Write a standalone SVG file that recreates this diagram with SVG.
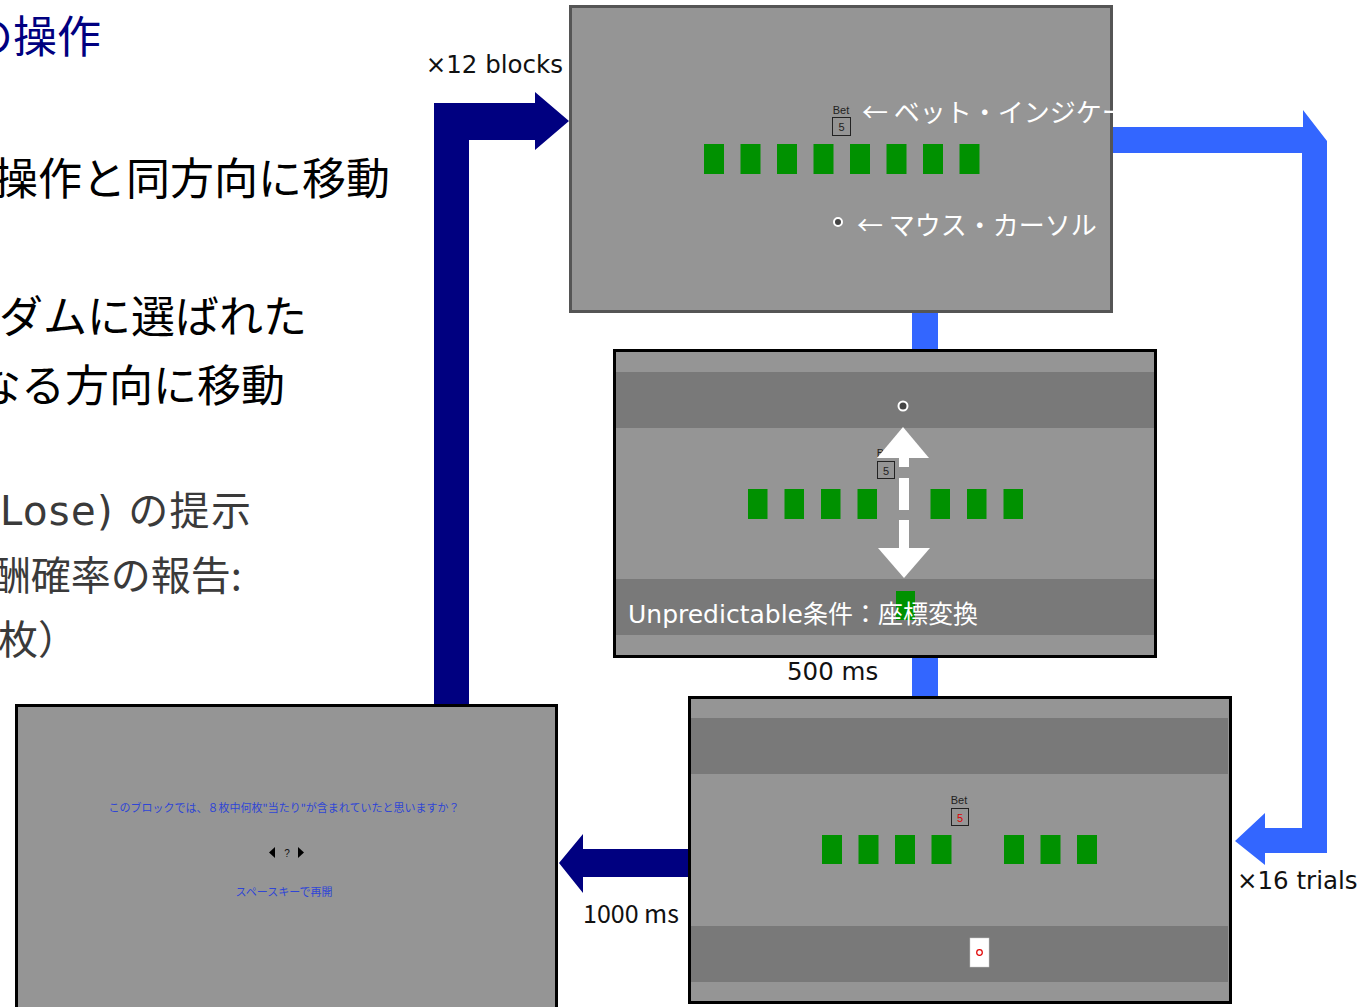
<svg xmlns="http://www.w3.org/2000/svg" width="1363" height="1007" viewBox="0 0 1363 1007">
<style>
.screen{fill:#959595}
.band{fill:#797979}
.card{fill:#009100}
.bet{font-family:"Liberation Sans",Arial,sans-serif;font-size:11px;fill:#222;text-anchor:middle}
.betbox{fill:none;stroke:#222;stroke-width:1}
.cursor{fill:#444;stroke:#fff;stroke-width:2}
.wlabel{font-family:"Noto Sans CJK JP",sans-serif;font-size:26px;fill:#fff}
.ulabel{font-family:"DejaVu Sans","Noto Sans CJK JP",sans-serif;font-size:25px;fill:#fff}
.lbl{font-family:"DejaVu Sans","Noto Sans CJK JP",sans-serif;font-size:24.5px;fill:#111}
.ms{font-family:"Noto Sans CJK JP",sans-serif;font-size:25px;fill:#111}
.big{font-family:"Noto Sans CJK JP",sans-serif;font-size:44px}
.mid{font-family:"Noto Sans CJK JP",sans-serif;font-size:40px;fill:#3a3a3a}
.midl{font-family:"DejaVu Sans","Noto Sans CJK JP",sans-serif;font-size:40px;fill:#3a3a3a}
.q{font-family:"Noto Sans CJK JP",sans-serif;font-size:11px;fill:#2f45d6;text-anchor:middle}
</style>
<rect width="1363" height="1007" fill="#fff"/>

<g id="slide-text">
<text class="big" x="101" y="53" fill="#000080" text-anchor="end">の操作</text>
<text class="big" x="390" y="195" fill="#000" text-anchor="end">操作と同方向に移動</text>
<text class="big" x="307" y="333" fill="#000" text-anchor="end">ダムに選ばれた</text>
<text class="big" x="285" y="402" fill="#000" text-anchor="end">なる方向に移動</text>
<text class="midl" x="0" y="525" textLength="251" lengthAdjust="spacing">Lose) の提示</text>
<text class="mid" x="242" y="590" text-anchor="end">酬確率の報告:</text>
<text class="mid" x="-2" y="654">枚）</text>
</g>

<g id="connectors">
<polygon fill="#000080" points="434,705 434,103 535,103 535,92 569,121 535,150 535,140 469,140 469,705"/>
<polygon fill="#3366ff" points="1112,127 1303,127 1303,110 1327,141 1327,853 1265,853 1265,865 1235,841 1265,813 1265,828 1302,828 1302,153 1112,153"/>
<rect x="912" y="311" width="26" height="42" fill="#3366ff"/>
<rect x="912" y="655" width="26" height="44" fill="#3366ff"/>
<polygon fill="#000080" points="689,849 583,849 583,834 559,863 583,893 583,877 689,877"/>
<text class="lbl" x="563" y="73" text-anchor="end">×12 blocks</text>
<text class="lbl" x="1237" y="889">×16 trials</text>
<text class="lbl" x="787" y="680">500 ms</text>
<text class="ms" x="583" y="923">1000 ms</text>
</g>

<g id="screen-fixation">
<rect x="570.5" y="6.5" width="541" height="305" class="screen" stroke="#555" stroke-width="3"/>
<text class="bet" x="841" y="114">Bet</text>
<rect class="betbox" x="832.5" y="117.5" width="18" height="18"/>
<text class="bet" x="841.5" y="131">5</text>
<rect class="card" x="704" y="144" width="20" height="30"/>
<rect class="card" x="740.5" y="144" width="20" height="30"/>
<rect class="card" x="777" y="144" width="20" height="30"/>
<rect class="card" x="813.5" y="144" width="20" height="30"/>
<rect class="card" x="850" y="144" width="20" height="30"/>
<rect class="card" x="886.5" y="144" width="20" height="30"/>
<rect class="card" x="923" y="144" width="20" height="30"/>
<rect class="card" x="959.5" y="144" width="20" height="30"/>
<circle class="cursor" cx="838" cy="222" r="4"/>
<text class="wlabel" x="862" y="122">← ベット・インジケー</text>
<text class="wlabel" x="857" y="235">← マウス・カーソル</text>
</g>

<g id="screen-choice">
<rect x="614.5" y="350.5" width="541" height="306" class="screen" stroke="#000" stroke-width="3"/>
<rect class="band" x="616" y="372" width="538" height="56"/>
<rect class="band" x="616" y="579" width="538" height="56"/>
<circle class="cursor" cx="903" cy="406" r="4.5"/>
<text class="bet" x="885" y="457">Bet</text>
<rect class="betbox" x="877.5" y="461.5" width="17" height="17"/>
<text class="bet" x="886" y="475">5</text>
<rect class="card" x="748" y="489" width="19.5" height="30"/>
<rect class="card" x="784.5" y="489" width="19.5" height="30"/>
<rect class="card" x="821" y="489" width="19.5" height="30"/>
<rect class="card" x="857.5" y="489" width="19.5" height="30"/>
<rect class="card" x="930.5" y="489" width="19.5" height="30"/>
<rect class="card" x="967" y="489" width="19.5" height="30"/>
<rect class="card" x="1003.5" y="489" width="19.5" height="30"/>
<rect class="card" x="896" y="591" width="19" height="29"/>
<g fill="#fff">
<polygon points="903,427 929,458 877,458"/>
<rect x="899" y="458" width="10" height="9"/>
<rect x="899" y="478" width="10" height="32"/>
<rect x="899" y="520" width="10" height="28"/>
<polygon points="878,548 930,548 904,578"/>
</g>
<text class="ulabel" x="628" y="623">Unpredictable条件：座標変換</text>
</g>

<g id="screen-outcome">
<rect x="689.5" y="697.5" width="541" height="305" class="screen" stroke="#000" stroke-width="3"/>
<rect class="band" x="691" y="718" width="537" height="56"/>
<rect class="band" x="691" y="926" width="537" height="56"/>
<text class="bet" x="959" y="804">Bet</text>
<rect class="betbox" x="951.5" y="808.5" width="17" height="17"/>
<text class="bet" x="960" y="822" style="fill:#e00000">5</text>
<rect class="card" x="822" y="835" width="20" height="29"/>
<rect class="card" x="858.5" y="835" width="20" height="29"/>
<rect class="card" x="895" y="835" width="20" height="29"/>
<rect class="card" x="931.5" y="835" width="20" height="29"/>
<rect class="card" x="1004" y="835" width="20" height="29"/>
<rect class="card" x="1040.5" y="835" width="20" height="29"/>
<rect class="card" x="1077" y="835" width="20" height="29"/>
<rect x="970" y="938" width="19" height="29" fill="#fff" stroke="#ccc" stroke-width="0.5"/>
<circle cx="979.5" cy="952.5" r="2.8" fill="none" stroke="#e00000" stroke-width="1.2"/>
</g>

<g id="screen-report">
<rect x="16.5" y="705.5" width="540" height="310" class="screen" stroke="#000" stroke-width="3"/>
<text class="q" x="284" y="812">このブロックでは、８枚中何枚"当たり"が含まれていたと思いますか？</text>
<polygon points="275,847 275,858 269,852.5" fill="#000"/>
<text x="287" y="857" font-family="Liberation Sans,Arial,sans-serif" font-size="10" fill="#111" text-anchor="middle">?</text>
<polygon points="298,847 298,858 304,852.5" fill="#000"/>
<text class="q" x="284" y="896">スペースキーで再開</text>
</g>
</svg>
